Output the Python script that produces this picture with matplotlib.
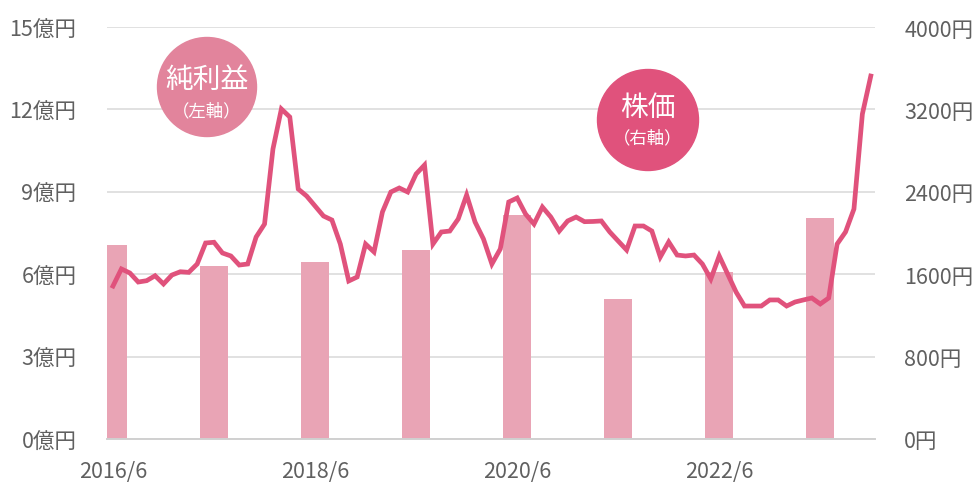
import numpy as np
import matplotlib.pyplot as plt
from matplotlib.patches import Circle

plt.rcParams['font.family'] = ['Noto Sans CJK JP', 'DejaVu Sans']

# 純利益 (億円), fiscal year ending June
profit_months = [0, 12, 24, 36, 48, 60, 72, 84]
profit = [7.06, 6.30, 6.44, 6.88, 8.15, 5.10, 6.08, 8.05]

# 株価 (円), monthly from 2016/6 to 2023/12
price = [
    1485, 1651, 1612, 1524, 1537, 1585, 1505, 1592, 1624, 1618, 1699, 1903,
    1910, 1806, 1777, 1689, 1699, 1961, 2087, 2816, 3204, 3126, 2427, 2359,
    2262, 2165, 2126, 1893, 1534, 1573, 1893, 1816, 2204, 2398, 2437, 2398,
    2573, 2660, 1893, 2010, 2019, 2136, 2369, 2107, 1942, 1699, 1845, 2301,
    2340, 2184, 2087, 2252, 2155, 2019, 2117, 2155, 2110, 2112, 2117, 2010,
    1922, 1835, 2068, 2068, 2019, 1767, 1913, 1786, 1777, 1786, 1699, 1553,
    1777, 1602, 1427, 1291, 1291, 1291, 1350, 1350, 1291, 1330, 1350, 1369,
    1311, 1369, 1893, 2010, 2233, 3155, 3524,
]
months = np.arange(len(price))

xtick_pos = [0, 24, 48, 72]
xtick_labels = ["2016/6", "2018/6", "2020/6", "2022/6"]
left_ticks = [0, 3, 6, 9, 12, 15]
right_ticks = [0, 800, 1600, 2400, 3200, 4000]

BAR = "#E9A4B5"
LINE = "#E0527C"
TXT = "#606060"

fig = plt.figure(figsize=(9.77, 4.85), dpi=100)
ax = fig.add_axes([107 / 977, 1 - 440 / 485, (875 - 107) / 977, (440 - 28) / 485])

ax.bar(profit_months, profit, width=3.3, color=BAR, zorder=2)
ax.set_xlim(-0.71, 90.5)
ax.set_ylim(0, 15)
ax.set_yticks(left_ticks)
ax.set_yticklabels([f"{v}億円" for v in left_ticks])
ax.set_xticks(xtick_pos)
ax.set_xticklabels(xtick_labels)
ax.grid(axis="y", color="#D9D9D9", linewidth=1.1, zorder=0)
ax.set_axisbelow(True)
for s in ["top", "right", "left"]:
    ax.spines[s].set_visible(False)
ax.spines["bottom"].set_color("#D0D0D0")
ax.spines["bottom"].set_linewidth(1.4)
ax.tick_params(axis="y", length=0, pad=22, labelsize=15.5, labelcolor=TXT)
ax.tick_params(axis="x", length=0, pad=15, labelsize=15.5, labelcolor=TXT)

ax2 = ax.twinx()
ax2.plot(months, price, color=LINE, linewidth=3.4, solid_joinstyle="miter", zorder=3)
ax2.set_ylim(0, 4000)
ax2.set_yticks(right_ticks)
ax2.set_yticklabels([f"{v}円" for v in right_ticks])
for s in ["top", "right", "left", "bottom"]:
    ax2.spines[s].set_visible(False)
ax2.tick_params(axis="y", length=0, pad=21, labelsize=15.5, labelcolor=TXT)

# legend bubbles
fig.add_artist(Circle((2.07, 3.97), 0.495, transform=fig.dpi_scale_trans,
                      color="#E2849C", zorder=5))
fig.text(207 / 977, 1 - 80 / 485, "純利益", ha="center", va="center",
         fontsize=20, color="white", zorder=6)
fig.text(207 / 977, 1 - 111 / 485, "（左軸）", ha="center", va="center",
         fontsize=12.5, color="white", zorder=6)

fig.add_artist(Circle((6.48, 3.64), 0.505, transform=fig.dpi_scale_trans,
                      color="#E0527C", zorder=5))
fig.text(648 / 977, 1 - 108 / 485, "株価", ha="center", va="center",
         fontsize=20, color="white", zorder=6)
fig.text(648 / 977, 1 - 138 / 485, "（右軸）", ha="center", va="center",
         fontsize=12.5, color="white", zorder=6)

fig.savefig("out.png", dpi=100)
